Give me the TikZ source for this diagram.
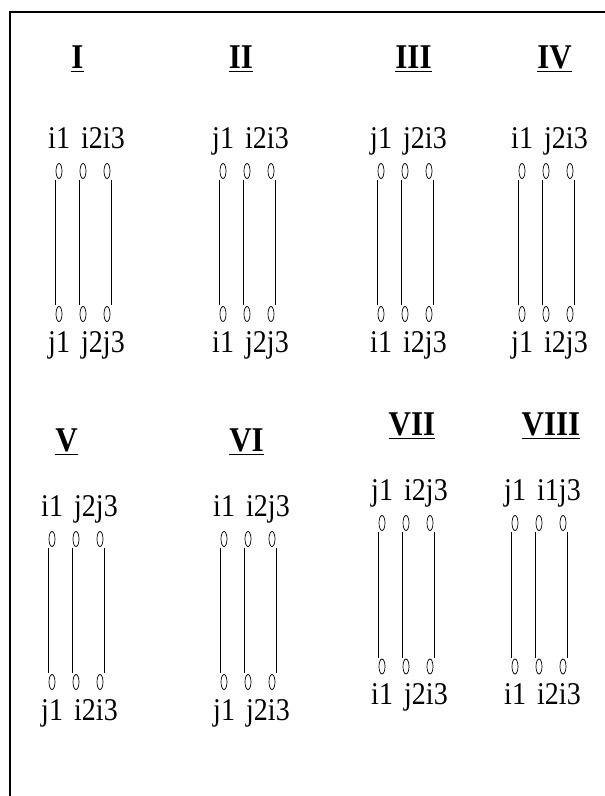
\documentclass[tikz,border=0pt]{standalone}
\usepackage{fontspec}
\usepackage{graphicx}
\setmainfont{Liberation Serif}
\usetikzlibrary{shapes.geometric}
\tikzset{
  lbl/.style={font=\fontsize{28}{31}\selectfont, inner sep=0pt, anchor=base},
  ttl/.style={font=\fontsize{31}{34}\selectfont\bfseries, inner sep=0pt, anchor=base},
  term/.style={ellipse, draw, minimum width=6pt, minimum height=15pt, inner sep=0pt, line width=0.7pt},
  wire/.style={line width=0.8pt},
  uline/.style={line width=1.8pt},
  framerule/.style={line width=1.6pt}
}
\newcommand\gap{\hspace{0.4em}}
\newcommand\tallA[1]{\scalebox{1}[1.13]{#1}}
\newcommand\tallB[1]{\scalebox{1}[1.12]{#1}}
% #1 id, #2 first terminal x, #3 top terminal y, #4 bottom terminal y, #5 top label, #6 bottom label
\newcommand\panel[6]{%
  \node[term] (#1t1) at (#2,-#3) {};
  \node[term] (#1t2) at (#2+24,-#3) {};
  \node[term] (#1t3) at (#2+48,-#3) {};
  \node[term] (#1b1) at (#2,-#4) {};
  \node[term] (#1b2) at (#2+24,-#4) {};
  \node[term] (#1b3) at (#2+48,-#4) {};
  \draw[wire] ([xshift=-3.5pt,yshift=-1pt]#1t1.south) -- ([xshift=-3.5pt,yshift=1pt]#1b1.north);
  \draw[wire] ([xshift=-3.5pt,yshift=-1pt]#1t2.south) -- ([xshift=-3.5pt,yshift=1pt]#1b2.north);
  \draw[wire] ([xshift=4pt,yshift=-1pt]#1t3.south) -- ([xshift=4pt,yshift=1pt]#1b3.north);
  \node[lbl] (#1top) at (#2+27.5,-#3+23) {\tallA{#5}};
  \node[lbl] (#1bot) at (#2+27.5,-#4-38) {\tallA{#6}};
}
\newcommand\paneltitle[4]{%
  \node[ttl] (#1) at (#2,-#3) {\tallB{#4}};
  \draw[uline] ([yshift=-3.5pt]#1.base west) -- ([yshift=-3.5pt]#1.base east);
}
\begin{document}
\begin{tikzpicture}[x=1pt,y=1pt]
  \useasboundingbox (0,0) rectangle (605,-796);
  \coordinate (fbl) at (10,-796);
  \coordinate (ftl) at (10,-12);
  \coordinate (ftr) at (605,-12);
  \draw[framerule] (fbl) -- (ftl) -- (ftr);

  \paneltitle{TI}{77.5}{68}{I}
  \paneltitle{TII}{241}{68}{II}
  \paneltitle{TIII}{413.5}{68}{III}
  \paneltitle{TIV}{554.5}{68}{IV}
  \paneltitle{TV}{66.5}{451}{V}
  \paneltitle{TVI}{246.5}{451}{VI}
  \paneltitle{TVII}{412}{435}{VII}
  \paneltitle{TVIII}{551}{435}{VIII}

  \panel{p1}{59}{171}{314}{i1\gap i2i3}{j1\gap j2j3}
  \panel{p2}{223}{171}{314}{j1\gap i2i3}{i1\gap j2j3}
  \panel{p3}{381}{171}{314}{j1\gap j2i3}{i1\gap i2j3}
  \panel{p4}{522}{171}{314}{i1\gap j2i3}{j1\gap i2j3}
  \panel{p5}{52}{539}{682}{i1\gap j2j3}{j1\gap i2i3}
  \panel{p6}{224}{539}{682}{i1\gap i2j3}{j1\gap j2i3}
  \panel{p7}{382}{523}{666.5}{j1\gap i2j3}{i1\gap j2i3}
  \panel{p8}{515}{523}{666.5}{j1\gap i1j3}{i1\gap i2i3}
\end{tikzpicture}
\end{document}
